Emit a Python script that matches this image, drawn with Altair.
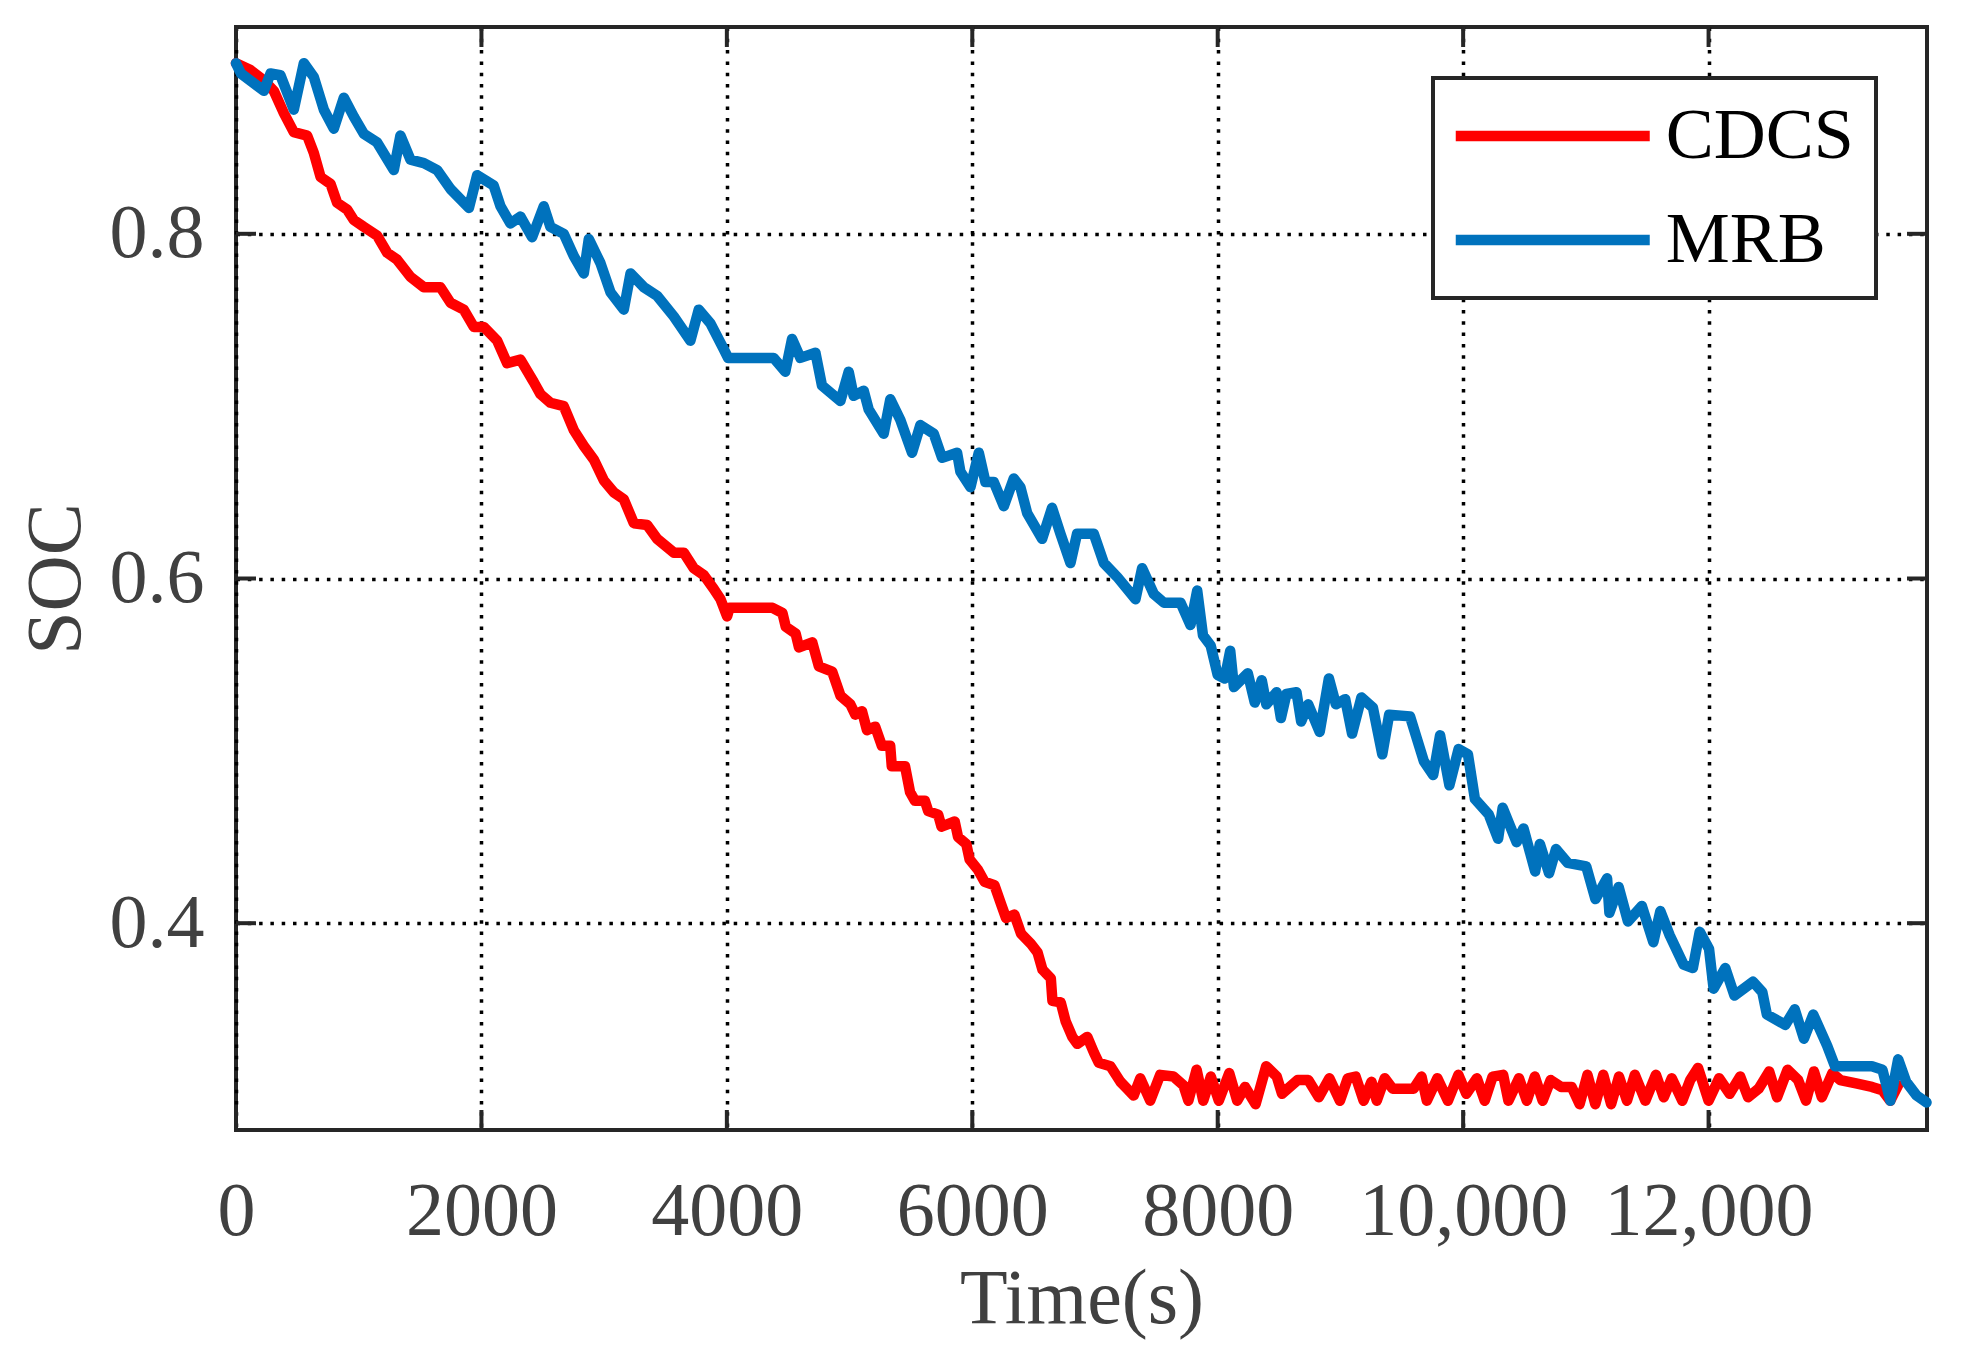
import altair as alt
import pandas as pd

series_names = ["CDCS", "MRB"]
series_colors = ["#FF0000", "#0072BD"]

cdcs_t = [0, 118, 227, 308, 390, 471, 580, 634, 689, 770, 824, 906, 960, 1042, 1150, 1232, 1313, 1422,
          1531, 1666, 1748, 1856, 1938, 2019, 2128, 2209, 2318, 2426, 2481, 2562, 2671, 2753, 2834, 2916,
          2997, 3079, 3160, 3242, 3351, 3432, 3568, 3649, 3730, 3812, 3893, 3948, 4002, 4022, 4372, 4453,
          4480, 4561, 4588, 4696, 4750, 4858, 4926, 5006, 5047, 5101, 5142, 5209, 5263, 5331, 5344, 5452,
          5493, 5533, 5614, 5641, 5722, 5749, 5857, 5884, 5951, 5978, 6046, 6100, 6181, 6235, 6275, 6343,
          6397, 6478, 6532, 6572, 6640, 6653, 6721, 6761, 6815, 6856, 6937, 6991, 7031, 7126, 7207, 7261,
          7315, 7369, 7450, 7531, 7639, 7720, 7761, 7828, 7882, 7944, 8009, 8094, 8159, 8223, 8309, 8395,
          8481, 8524, 8652, 8738, 8824, 8910, 8996, 9060, 9124, 9189, 9253, 9296, 9361, 9425, 9597, 9661,
          9704, 9790, 9876, 9961, 10026, 10112, 10176, 10240, 10326, 10369, 10455, 10519, 10584, 10648,
          10713, 10798, 10884, 10949, 11013, 11077, 11142, 11206, 11270, 11335, 11399, 11485, 11571, 11635,
          11700, 11786, 11850, 11914, 12000, 12086, 12172, 12258, 12322, 12408, 12494, 12558, 12644, 12730,
          12794, 12859, 12923, 13009, 13073, 13202, 13331, 13417, 13481, 13545]
cdcs_soc = [0.899, 0.895, 0.889, 0.883, 0.870, 0.859, 0.857, 0.847, 0.833, 0.829, 0.818, 0.814, 0.808, 0.804,
            0.799, 0.789, 0.785, 0.775, 0.769, 0.769, 0.760, 0.756, 0.746, 0.746, 0.738, 0.725, 0.727, 0.714,
            0.707, 0.702, 0.700, 0.686, 0.677, 0.669, 0.657, 0.650, 0.646, 0.632, 0.631, 0.623, 0.615, 0.615,
            0.606, 0.602, 0.594, 0.588, 0.578, 0.583, 0.583, 0.580, 0.572, 0.568, 0.560, 0.563, 0.549, 0.546,
            0.532, 0.527, 0.521, 0.523, 0.512, 0.514, 0.503, 0.503, 0.491, 0.491, 0.476, 0.471, 0.471, 0.465,
            0.463, 0.456, 0.459, 0.450, 0.446, 0.437, 0.431, 0.424, 0.422, 0.411, 0.403, 0.405, 0.394, 0.388,
            0.383, 0.373, 0.368, 0.355, 0.354, 0.343, 0.334, 0.330, 0.334, 0.325, 0.319, 0.317, 0.308, 0.304,
            0.300, 0.310, 0.297, 0.312, 0.311, 0.306, 0.297, 0.315, 0.297, 0.311, 0.297, 0.313, 0.297, 0.305,
            0.295, 0.317, 0.311, 0.301, 0.309, 0.309, 0.299, 0.310, 0.297, 0.310, 0.311, 0.297, 0.308, 0.297,
            0.310, 0.304, 0.304, 0.311, 0.297, 0.310, 0.297, 0.312, 0.301, 0.310, 0.297, 0.311, 0.312, 0.297,
            0.310, 0.297, 0.311, 0.297, 0.309, 0.305, 0.305, 0.295, 0.312, 0.295, 0.312, 0.295, 0.311, 0.297,
            0.312, 0.297, 0.312, 0.299, 0.310, 0.297, 0.309, 0.316, 0.297, 0.310, 0.301, 0.311, 0.299, 0.304,
            0.314, 0.299, 0.315, 0.309, 0.297, 0.314, 0.299, 0.313, 0.309, 0.307, 0.305, 0.303, 0.297, 0.306]

mrb_t = [0, 40, 227, 281, 362, 471, 553, 634, 716, 797, 879, 960, 1042, 1150, 1286, 1340, 1422, 1531, 1639,
         1748, 1898, 1965, 2100, 2155, 2236, 2318, 2413, 2508, 2562, 2671, 2753, 2834, 2875, 2970, 3052,
         3160, 3215, 3324, 3432, 3568, 3703, 3771, 3866, 3975, 4010, 4381, 4476, 4531, 4599, 4722, 4775,
         4925, 4993, 5033, 5115, 5156, 5278, 5332, 5414, 5509, 5577, 5686, 5754, 5876, 5903, 5985, 6053,
         6107, 6175, 6257, 6338, 6392, 6447, 6569, 6650, 6718, 6800, 6854, 6990, 7072, 7180, 7330, 7384,
         7479, 7561, 7697, 7778, 7833, 7880, 7943, 8000, 8057, 8102, 8132, 8245, 8302, 8359, 8396, 8480,
         8515, 8560, 8642, 8680, 8737, 8831, 8906, 8963, 9039, 9095, 9171, 9265, 9341, 9397, 9567, 9680,
         9756, 9812, 9888, 9963, 10039, 10096, 10209, 10285, 10322, 10436, 10492, 10587, 10625, 10700,
         10757, 10852, 11003, 11078, 11173, 11192, 11267, 11343, 11456, 11550, 11607, 11683, 11796, 11872,
         11928, 12004, 12041, 12136, 12211, 12362, 12438, 12475, 12626, 12702, 12777, 12853, 12966, 13030,
         13331, 13417, 13481, 13545, 13610, 13695, 13776]
mrb_soc = [0.899, 0.893, 0.883, 0.893, 0.892, 0.872, 0.899, 0.891, 0.872, 0.861, 0.879, 0.868, 0.858, 0.853,
           0.837, 0.857, 0.843, 0.841, 0.837, 0.826, 0.815, 0.834, 0.828, 0.816, 0.806, 0.810, 0.798, 0.816,
           0.804, 0.800, 0.787, 0.777, 0.797, 0.783, 0.766, 0.756, 0.777, 0.769, 0.764, 0.752, 0.738, 0.756,
           0.748, 0.733, 0.728, 0.728, 0.720, 0.739, 0.728, 0.731, 0.712, 0.703, 0.720, 0.706, 0.709, 0.698,
           0.684, 0.704, 0.692, 0.673, 0.689, 0.684, 0.670, 0.673, 0.662, 0.653, 0.673, 0.656, 0.656, 0.642,
           0.658, 0.653, 0.638, 0.623, 0.641, 0.626, 0.609, 0.626, 0.626, 0.609, 0.601, 0.588, 0.606, 0.591,
           0.586, 0.586, 0.573, 0.593, 0.567, 0.561, 0.544, 0.542, 0.558, 0.537, 0.545, 0.528, 0.541, 0.527,
           0.534, 0.519, 0.533, 0.534, 0.517, 0.527, 0.511, 0.542, 0.527, 0.530, 0.510, 0.531, 0.525, 0.498,
           0.521, 0.520, 0.494, 0.486, 0.509, 0.480, 0.501, 0.498, 0.472, 0.463, 0.449, 0.467, 0.447, 0.455,
           0.430, 0.446, 0.429, 0.443, 0.435, 0.433, 0.414, 0.426, 0.406, 0.421, 0.401, 0.410, 0.389, 0.407,
           0.393, 0.376, 0.374, 0.395, 0.385, 0.362, 0.374, 0.358, 0.366, 0.360, 0.347, 0.341, 0.350, 0.333,
           0.347, 0.329, 0.317, 0.317, 0.315, 0.297, 0.321, 0.308, 0.300, 0.296]

x_ticks = [0, 2000, 4000, 6000, 8000, 10000, 12000]
y_ticks = [0.4, 0.6, 0.8]
x_domain = [0, 13780]
y_domain = [0.28, 0.92]

df = pd.concat([
    pd.DataFrame({"t": cdcs_t, "soc": cdcs_soc, "series": series_names[0]}),
    pd.DataFrame({"t": mrb_t, "soc": mrb_soc, "series": series_names[1]}),
], ignore_index=True)

W, H = 1691, 1103
FONT = "Liberation Serif"
TXT = "#404040"
AX = "#262626"
TICK = 20
LW = 10.5

xs = alt.Scale(domain=x_domain, nice=False, zero=False)
ys = alt.Scale(domain=y_domain, nice=False, zero=False)

x_axis = alt.Axis(values=x_ticks, title="Time(s)", grid=True, ticks=False, tickSize=0, domain=False,
                  labelExpr="datum.value >= 10000 ? format(datum.value, ',') : format(datum.value, 'd')",
                  labelFont=FONT, labelFontSize=76, labelColor=TXT, labelPadding=44, labelLimit=500,
                  labelFlush=False, labelOverlap=False,
                  titleFont=FONT, titleFontSize=78, titleColor=TXT, titleFontWeight="normal",
                  titleBaseline="alphabetic", titleY=192)
y_axis = alt.Axis(values=y_ticks, title="SOC", grid=True, ticks=False, tickSize=0, domain=False,
                  format=".1f", labelFont=FONT, labelFontSize=76, labelColor=TXT, labelPadding=32,
                  labelLimit=500, labelFlush=False, labelOverlap=False,
                  titleFont=FONT, titleFontSize=78, titleColor=TXT, titleFontWeight="normal",
                  titleAngle=-90, titleBaseline="middle", titleX=-180, titleY=H / 2)

# legend sample line: custom path wider than sqrt(symbolSize)
SYM = 60          # sqrt(symbolSize)
SAMPLE = 194      # sample line length in px
half = SAMPLE / 2 / (SYM / 2)
color = alt.Color("series:N", scale=alt.Scale(domain=series_names, range=series_colors),
                  legend=alt.Legend(title=None, orient="none", legendX=1197, legendY=51,
                                    symbolType=f"M{-half:.4f},0H{half:.4f}", symbolSize=SYM * SYM,
                                    symbolStrokeWidth=LW, symbolOffset=SAMPLE / 2 - (SYM + LW) / 2,
                                    labelFont=FONT, labelFontSize=72, labelColor="black",
                                    labelLimit=600, labelOffset=77,
                                    padding=22, rowPadding=32,
                                    strokeColor=AX, fillColor="white"))

base = alt.Chart(df)
red = base.transform_filter(alt.datum.series == series_names[0]).mark_line(
    strokeWidth=LW, strokeJoin="round", strokeCap="round").encode(
    x=alt.X("t:Q", scale=xs, axis=x_axis), y=alt.Y("soc:Q", scale=ys, axis=y_axis), color=color)
blue = base.transform_filter(alt.datum.series == series_names[1]).mark_line(
    strokeWidth=LW, strokeJoin="round", strokeCap="round").encode(
    x=alt.X("t:Q", scale=xs, axis=x_axis), y=alt.Y("soc:Q", scale=ys, axis=y_axis), color=color)

xt = alt.Chart(pd.DataFrame({"xt": x_ticks}))
yt = alt.Chart(pd.DataFrame({"yt": y_ticks}))
xtick_bottom = xt.mark_rule(color=AX, strokeWidth=4).encode(
    x=alt.X("xt:Q", scale=xs, axis=x_axis), y=alt.value(H), y2=alt.value(H - TICK))
xtick_top = xt.mark_rule(color=AX, strokeWidth=4).encode(
    x=alt.X("xt:Q", scale=xs, axis=x_axis), y=alt.value(0), y2=alt.value(TICK))
ytick_left = yt.mark_rule(color=AX, strokeWidth=4).encode(
    y=alt.Y("yt:Q", scale=ys, axis=y_axis), x=alt.value(0), x2=alt.value(TICK))
ytick_right = yt.mark_rule(color=AX, strokeWidth=4).encode(
    y=alt.Y("yt:Q", scale=ys, axis=y_axis), x=alt.value(W), x2=alt.value(W - TICK))

chart = alt.layer(red, blue, xtick_bottom, xtick_top, ytick_left, ytick_right).properties(
    width=W, height=H,
    autosize=alt.AutoSizeParams(type="none"),
    padding={"left": 236, "top": 27, "right": 37, "bottom": 227},
    background="white",
).configure_view(stroke=AX, strokeWidth=4).configure_axis(
    gridColor="black", gridDash=[3.5, 7.8], gridWidth=3.5, gridOpacity=1
).configure_legend(strokeWidth=4)

chart.save("out.html", embed_options={"renderer": "svg", "actions": False})
